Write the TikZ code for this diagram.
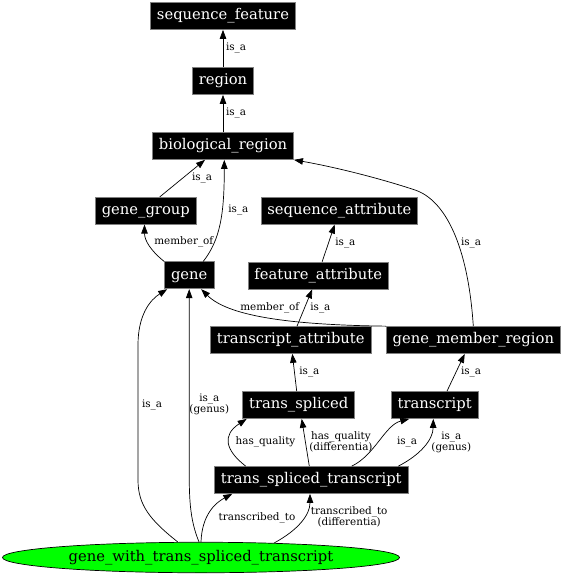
\documentclass[tikz,border=0pt]{standalone}
\usepackage{fontspec}
\setmainfont{DejaVu Serif}
\usetikzlibrary{arrows.meta,shapes.geometric}
\definecolor{termgreen}{RGB}{0,255,0}
\tikzset{
  term/.style={rectangle, draw=gray, line width=0.7pt, fill=black, text=white, font=\fontsize{14.75}{16}\selectfont, minimum height=27pt, inner xsep=6.5pt, inner ysep=0pt, text height=11pt, text depth=3.5pt},
  rel/.style={font=\fontsize{10.4}{11}\selectfont, inner sep=0pt, align=center},
  isa/.style={-{Triangle[length=9pt,width=6.5pt]}, line width=0.7pt},
}
\begin{document}
\begin{tikzpicture}[x=1pt, y=-1pt]
      \useasboundingbox (0,0) rectangle (564,576);
      % Nodes
      \node[term] at (223, 16) (seqfeat) {sequence\_feature};
      \node[term] at (223, 81) (region) {region};
      \node[term] at (223, 146) (bioreg) {biological\_region};
      \node[term] at (145.8, 210.7) (genegroup) {gene\_group};
      \node[term] at (339.3, 210.7) (seqattr) {sequence\_attribute};
      \node[term] at (189.2, 275.3) (gene) {gene};
      \node[term] at (318.2, 275.5) (featattr) {feature\_attribute};
      \node[term] at (290.8, 340) (trattr) {transcript\_attribute};
      \node[term] at (473.3, 340) (gmr) {gene\_member\_region};
      \node[term] at (298.7, 405) (trspliced) {trans\_spliced};
      \node[term] at (434.7, 405) (transcript) {transcript};
      \node[term] at (311.3, 480) (tst) {trans\_spliced\_transcript};
      \node[ellipse, draw, line width=0.7pt, fill=termgreen, minimum width=397pt, minimum height=30.5pt, inner sep=0pt, font=\fontsize{14.75}{16}\selectfont] at (201, 557.5) (gwtst) {gene\_with\_trans\_spliced\_transcript};

      % Edges
      \draw[isa] (region) -- (seqfeat) node[rel, anchor=west] at (225.7, 48) {is\_a};
      \draw[isa] (bioreg) -- (region) node[rel, anchor=west] at (225.7, 113) {is\_a};
      \draw[isa] ([xshift=14pt]genegroup.north) -- ([xshift=-18pt]bioreg.south) node[rel, anchor=west] at (191.7, 178) {is\_a};
      \draw[isa] ([xshift=14pt]gene.north) .. controls (220, 240) and (224.3, 215) .. ([xshift=1.3pt]bioreg.south) node[rel, anchor=west] at (228, 210) {is\_a};
      \draw[isa] (gene.north west) .. controls (150, 250) and (144.5, 240) .. ([xshift=-1.3pt]genegroup.south) node[rel, anchor=west] at (154, 242) {member\_of};
      \draw[isa] ([xshift=4pt]featattr.north) -- ([xshift=-4.6pt]seqattr.south) node[rel, anchor=west] at (335, 243) {is\_a};
      \draw[isa] (gmr.north) .. controls (468, 245) and (445, 200) .. (415, 190) .. controls (385, 180) and (340, 168) .. (bioreg.south east) node[rel, anchor=west] at (460.7, 243) {is\_a};
      \draw[isa] ([xshift=6.2pt]trattr.north) -- ([xshift=-6pt]featattr.south) node[rel, anchor=west] at (310, 307.7) {is\_a};
      \draw[isa] (gmr.north west) .. controls (300, 325) and (230, 318) .. ([xshift=12pt]gene.south) node[rel, anchor=west] at (240, 307.7) {member\_of};
      \draw[isa] ([xshift=-2pt]trspliced.north) -- ([xshift=1.5pt]trattr.south) node[rel, anchor=west] at (299, 372) {is\_a};
      \draw[isa] ([xshift=12.3pt]transcript.north) -- ([xshift=-8.6pt]gmr.south) node[rel, anchor=west] at (460.7, 372) {is\_a};
      \draw[isa] ([xshift=-65.6pt]tst.north) .. controls (225, 450) and (222, 435) .. ([xshift=-52pt]trspliced.south) node[rel, anchor=west] at (235.3, 441.7) {has\_quality};
      \draw[isa] ([xshift=-2pt]tst.north) -- ([xshift=3pt]trspliced.south) node[rel, anchor=west] at (309, 442) {has\_quality\\(differentia)};
      \draw[isa] ([xshift=40.4pt]tst.north) .. controls (375, 455) and (385, 425) .. ([xshift=-25.4pt]transcript.south) node[rel, anchor=west] at (396.7, 442) {is\_a};
      \draw[isa] ([xshift=87pt]tst.north) .. controls (420, 455) and (433, 440) .. ([xshift=-1.4pt]transcript.south) node[rel] at (451.3, 442) {is\_a\\(genus)};
      \draw[isa] ([xshift=-23.3pt]gwtst.north) .. controls (150, 520) and (138, 505) .. (138, 480) -- (138, 345) .. controls (138, 315) and (150, 300) .. ([xshift=-22pt]gene.south) node[rel, anchor=west] at (141.7, 405) {is\_a};
      \draw[isa] ([xshift=-2pt]gwtst.north) .. controls (190, 520) and (189.2, 500) .. (189.2, 470) -- (gene.south) node[rel] at (209.3, 404.5) {is\_a\\(genus)};
      \draw[isa] (gwtst.north) .. controls (202, 515) and (215, 503) .. ([xshift=-79pt]tst.south) node[rel, anchor=west] at (218.3, 517.7) {transcribed\_to};
      \draw[isa] ([xshift=73.3pt, yshift=-1pt]gwtst.north) .. controls (298, 530) and (310, 515) .. ([xshift=-1.3pt]tst.south) node[rel] at (349.2, 517) {transcribed\_to\\(differentia)};
    \end{tikzpicture}
\end{document}
